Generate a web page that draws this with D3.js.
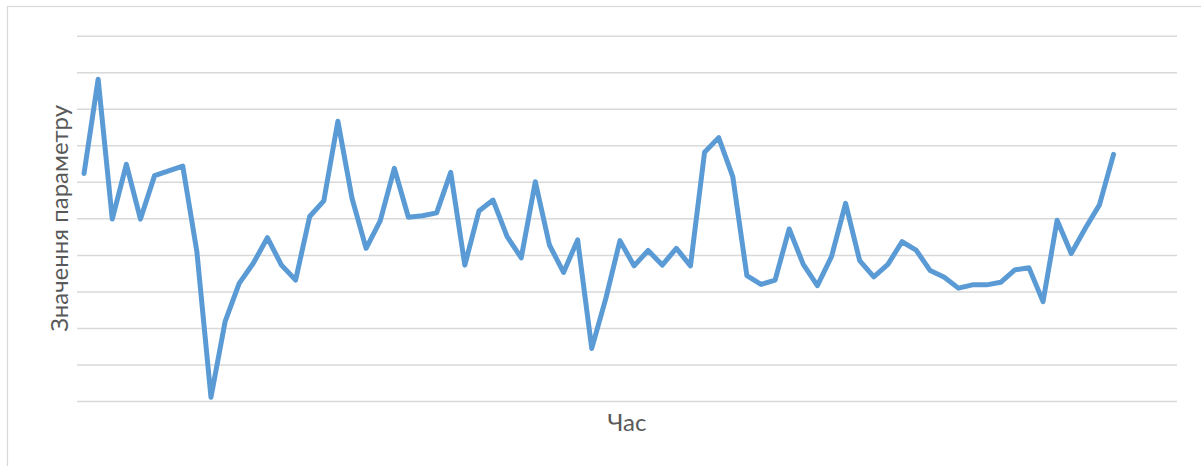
<!DOCTYPE html>
<html>
<head>
<meta charset="utf-8">
<script src="https://cdn.jsdelivr.net/npm/d3@7"></script>
<style>
  body { margin: 0; background: #fff; }
  svg { display: block; }
</style>
</head>
<body>
<div id="chart"></div>
<script>
// time slots on the category axis (the last few have no reading)
const hours = [
  1, 2, 3, 4, 5, 6, 7, 8, 9, 10, 11, 12, 13, 14, 15, 16, 17, 18, 19, 20,
  21, 22, 23, 24, 25, 26, 27, 28, 29, 30, 31, 32, 33, 34, 35, 36, 37, 38, 39, 40,
  41, 42, 43, 44, 45, 46, 47, 48, 49, 50, 51, 52, 53, 54, 55, 56, 57, 58, 59, 60,
  61, 62, 63, 64, 65, 66, 67, 68, 69, 70, 71, 72, 73, 74, 75, 76, 77, 78
];

// parameter readings (arbitrary units)
const values = [
  6.23, 8.81, 4.98, 6.48, 4.98, 6.17, 6.30, 6.43, 4.09, 0.10,
  2.17, 3.22, 3.77, 4.47, 3.72, 3.31, 5.05, 5.48, 7.66, 5.55,
  4.18, 4.93, 6.37, 5.03, 5.07, 5.15, 6.26, 3.72, 5.20, 5.50,
  4.50, 3.92, 6.00, 4.27, 3.52, 4.41, 1.44, 2.81, 4.39, 3.70,
  4.12, 3.72, 4.18, 3.70, 6.81, 7.21, 6.14, 3.43, 3.19, 3.31,
  4.71, 3.74, 3.16, 3.95, 5.41, 3.84, 3.40, 3.74, 4.36, 4.13,
  3.57, 3.39, 3.09, 3.18, 3.18, 3.25, 3.59, 3.65, 2.72, 4.95,
  4.04, 4.73, 5.37, 6.75
];

// gridline levels (no tick labels are shown)
const gridLevels = [0, 1, 2, 3, 4, 5, 6, 7, 8, 9, 10];

const yTitle = "Значення параметру";
const xTitle = "Час";

const width = 1201, height = 466;
const plot = { left: 77, right: 1177, top: 35.7, bottom: 401 };

const svg = d3.select("#chart").append("svg")
    .attr("width", width)
    .attr("height", height)
    .style("font-family", "Lato, 'Open Sans', sans-serif");

// chart area border
svg.append("rect")
    .attr("x", 7.5)
    .attr("y", 6.5)
    .attr("width", width + 10)
    .attr("height", height + 10)
    .attr("fill", "#fff")
    .attr("stroke", "#d9d9d9")
    .attr("stroke-width", 1.2);

const x = d3.scaleBand()
    .domain(hours)
    .range([plot.left, plot.right]);

const y = d3.scaleLinear()
    .domain([0, 10])
    .range([plot.bottom, plot.top]);

// horizontal gridlines
svg.append("g")
    .attr("transform", `translate(${plot.left},0)`)
    .call(d3.axisLeft(y).tickValues(gridLevels).tickSize(-(plot.right - plot.left)).tickFormat(""))
    .call(g => g.select(".domain").remove())
    .call(g => g.selectAll(".tick line")
        .attr("stroke", "#d9d9d9")
        .attr("stroke-width", 1.5));

const series = values.map((v, i) => ({ hour: hours[i], value: v }));

const line = d3.line()
    .x(d => x(d.hour) + x.bandwidth() / 2)
    .y(d => y(d.value));

svg.append("path")
    .datum(series)
    .attr("fill", "none")
    .attr("stroke", "#5b9bd5")
    .attr("stroke-width", 5)
    .attr("stroke-linejoin", "round")
    .attr("stroke-linecap", "round")
    .attr("d", line);

// axis titles
svg.append("text")
    .attr("transform", `translate(68,${(plot.top + plot.bottom) / 2}) rotate(-90)`)
    .attr("text-anchor", "middle")
    .attr("fill", "#595959")
    .style("font-size", "24px")
    .text(yTitle);

svg.append("text")
    .attr("x", (plot.left + plot.right) / 2)
    .attr("y", 431)
    .attr("text-anchor", "middle")
    .attr("fill", "#595959")
    .style("font-size", "24px")
    .text(xTitle);
</script>
</body>
</html>
